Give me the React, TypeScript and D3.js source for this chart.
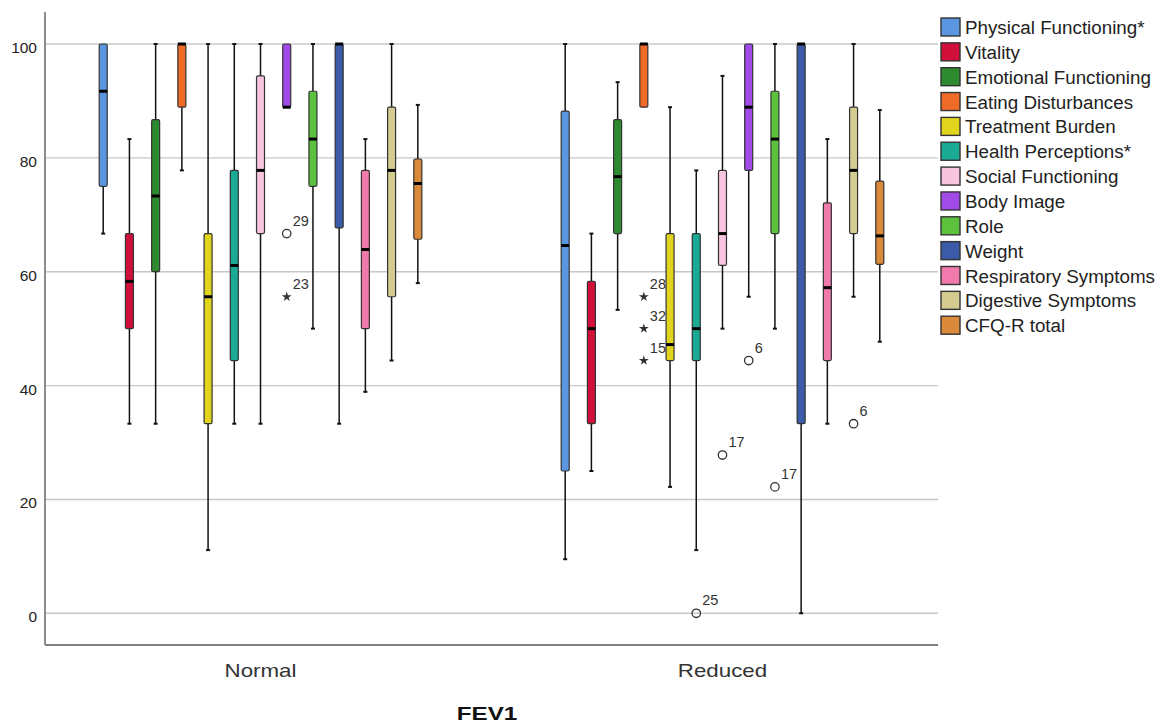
import React from 'react';
import * as d3 from 'd3';

const series = [
  'Physical Functioning*', 'Vitality', 'Emotional Functioning', 'Eating Disturbances',
  'Treatment Burden', 'Health Perceptions*', 'Social Functioning', 'Body Image', 'Role',
  'Weight', 'Respiratory Symptoms', 'Digestive Symptoms', 'CFQ-R total',
];
const colors = [
  '#5b97e0', '#d0103a', '#2e8a2e', '#f06a28', '#e2d41c', '#1bab94', '#f8c4de',
  '#a04be8', '#5cc23e', '#3b5aa8', '#f07aac', '#d4cb90', '#da8a3a',
];
const groups = ['Normal', 'Reduced'];
const yTicks = [0, 20, 40, 60, 80, 100];

// five-number summaries, one value per series
const normalMin = [66.7, 33.3, 33.3, 77.8, 11.1, 33.3, 33.3, 88.9, 50, 33.3, 38.9, 44.4, 58.0];
const normalQ1 = [75, 50, 60, 88.9, 33.3, 44.4, 66.7, 88.9, 75, 67.7, 50, 55.6, 65.7];
const normalMedian = [91.7, 58.3, 73.3, 100, 55.6, 61.1, 77.8, 88.9, 83.3, 100, 63.9, 77.8, 75.5];
const normalQ3 = [100, 66.7, 86.7, 100, 66.7, 77.8, 94.4, 100, 91.7, 100, 77.8, 88.9, 79.8];
const normalMax = [100, 83.3, 100, 100, 100, 100, 100, 100, 100, 100, 83.3, 100, 89.3];

const reducedMin = [9.5, 25, 53.3, 88.9, 22.2, 11.1, 50, 55.6, 50, 0, 33.3, 55.6, 47.7];
const reducedQ1 = [25, 33.3, 66.7, 88.9, 44.4, 44.4, 61.1, 77.8, 66.7, 33.3, 44.4, 66.7, 61.3];
const reducedMedian = [64.6, 50, 76.7, 100, 47.2, 50, 66.7, 88.9, 83.3, 100, 57.2, 77.8, 66.3];
const reducedQ3 = [88.2, 58.3, 86.7, 100, 66.7, 66.7, 77.8, 100, 91.7, 100, 72.1, 88.9, 75.9];
const reducedMax = [100, 66.7, 93.3, 100, 88.9, 77.8, 94.4, 100, 100, 100, 83.3, 100, 88.4];

// outliers (circle) and extremes (star), labelled with case number
const outliers = [
  { group: 'Normal', series: 'Body Image', value: 66.7, label: '29', extreme: false },
  { group: 'Normal', series: 'Body Image', value: 55.6, label: '23', extreme: true },
  { group: 'Reduced', series: 'Eating Disturbances', value: 55.6, label: '28', extreme: true },
  { group: 'Reduced', series: 'Eating Disturbances', value: 50, label: '32', extreme: true },
  { group: 'Reduced', series: 'Eating Disturbances', value: 44.4, label: '15', extreme: true },
  { group: 'Reduced', series: 'Health Perceptions*', value: 0, label: '25', extreme: false },
  { group: 'Reduced', series: 'Social Functioning', value: 27.8, label: '17', extreme: false },
  { group: 'Reduced', series: 'Body Image', value: 44.4, label: '6', extreme: false },
  { group: 'Reduced', series: 'Role', value: 22.2, label: '17', extreme: false },
  { group: 'Reduced', series: 'Digestive Symptoms', value: 33.3, label: '6', extreme: false },
];

const stats = {
  Normal: { min: normalMin, q1: normalQ1, med: normalMedian, q3: normalQ3, max: normalMax },
  Reduced: { min: reducedMin, q1: reducedQ1, med: reducedMedian, q3: reducedQ3, max: reducedMax },
};

const W = 1166;
const H = 725;
const left = 45, right = 938, top = 44, bottom = 613.3, axisBottom = 645;
const font = '"Liberation Sans", Arial, sans-serif';

export default function App() {
  const y = d3.scaleLinear().domain([0, 100]).range([bottom, top]);
  const x = d3.scalePoint().domain(groups).range([left, right]).padding(0.4665);
  const inner = d3.scalePoint().domain(series).range([-157.3, 157.3]);
  const color = d3.scaleOrdinal<string, string>().domain(series).range(colors);
  const boxW = 8;
  const star = d3.symbol().type(d3.symbolStar).size(30)();

  return (
    <div style={{ position: 'absolute', left: 0, top: 0 }}>
      <svg width={W} height={H} style={{ display: 'block', background: '#fff' }} fontFamily={font}>
        {/* grid */}
        {yTicks.map((t) => (
          <g key={t}>
            <line x1={left} x2={right} y1={y(t)} y2={y(t)} stroke="#c8c8c8" strokeWidth={1.4} />
            <text x={37} y={y(t) + 9} textAnchor="end" fontSize={15.5} fill="#222">{t}</text>
          </g>
        ))}
        <line x1={left} x2={left} y1={12} y2={axisBottom} stroke="#808080" strokeWidth={1.8} />
        <line x1={left} x2={right} y1={axisBottom} y2={axisBottom} stroke="#808080" strokeWidth={1.8} />

        {/* boxes */}
        {groups.map((g) => {
          const s = stats[g as 'Normal' | 'Reduced'];
          return (
            <g key={g}>
              {series.map((name, i) => {
                const cx = (x(g) as number) + (inner(name) as number);
                return (
                  <g key={name}>
                    {s.max[i] > s.q3[i] && (
                      <>
                        <line x1={cx} x2={cx} y1={y(s.max[i])} y2={y(s.q3[i])} stroke="#111" strokeWidth={1.5} />
                        <line x1={cx - 2} x2={cx + 2} y1={y(s.max[i])} y2={y(s.max[i])} stroke="#111" strokeWidth={2} />
                      </>
                    )}
                    {s.min[i] < s.q1[i] && (
                      <>
                        <line x1={cx} x2={cx} y1={y(s.q1[i])} y2={y(s.min[i])} stroke="#111" strokeWidth={1.5} />
                        <line x1={cx - 2} x2={cx + 2} y1={y(s.min[i])} y2={y(s.min[i])} stroke="#111" strokeWidth={2} />
                      </>
                    )}
                    <rect
                      x={cx - boxW / 2}
                      y={y(s.q3[i])}
                      width={boxW}
                      height={y(s.q1[i]) - y(s.q3[i])}
                      rx={1.5}
                      fill={color(name)}
                      stroke="#333"
                      strokeWidth={1.2}
                    />
                    <line
                      x1={cx - boxW / 2}
                      x2={cx + boxW / 2}
                      y1={y(s.med[i])}
                      y2={y(s.med[i])}
                      stroke="#000"
                      strokeWidth={3}
                    />
                  </g>
                );
              })}
            </g>
          );
        })}

        {/* outliers */}
        {outliers.map((o, k) => {
          const cx = (x(o.group) as number) + (inner(o.series) as number);
          const cy = y(o.value);
          return (
            <g key={k}>
              {o.extreme ? (
                <path d={star} transform={`translate(${cx},${cy})`} fill="#333" />
              ) : (
                <circle cx={cx} cy={cy} r={4.2} fill="none" stroke="#333" strokeWidth={1.3} />
              )}
              <text x={cx + 6} y={cy - 8} fontSize={14.5} fill="#333">{o.label}</text>
            </g>
          );
        })}

        {/* category labels */}
        {groups.map((g) => (
          <text
            key={g}
            transform={`translate(${x(g)},677) scale(1.2,1)`}
            textAnchor="middle"
            fontSize={18.6}
            fill="#333"
          >
            {g}
          </text>
        ))}
        <text transform="translate(487,720) scale(1.3,1)" textAnchor="middle" fontSize={18.6} fontWeight="bold" fill="#111">
          FEV1
        </text>

        {/* legend */}
        {series.map((name, i) => {
          const cy = 27 + i * 24.85;
          return (
            <g key={name}>
              <rect x={941} y={cy - 9} width={19} height={18} fill={color(name)} stroke="#333" strokeWidth={1.4} />
              <text x={965} y={cy + 7} fontSize={18.8} fill="#222">{name}</text>
            </g>
          );
        })}
      </svg>
    </div>
  );
}
